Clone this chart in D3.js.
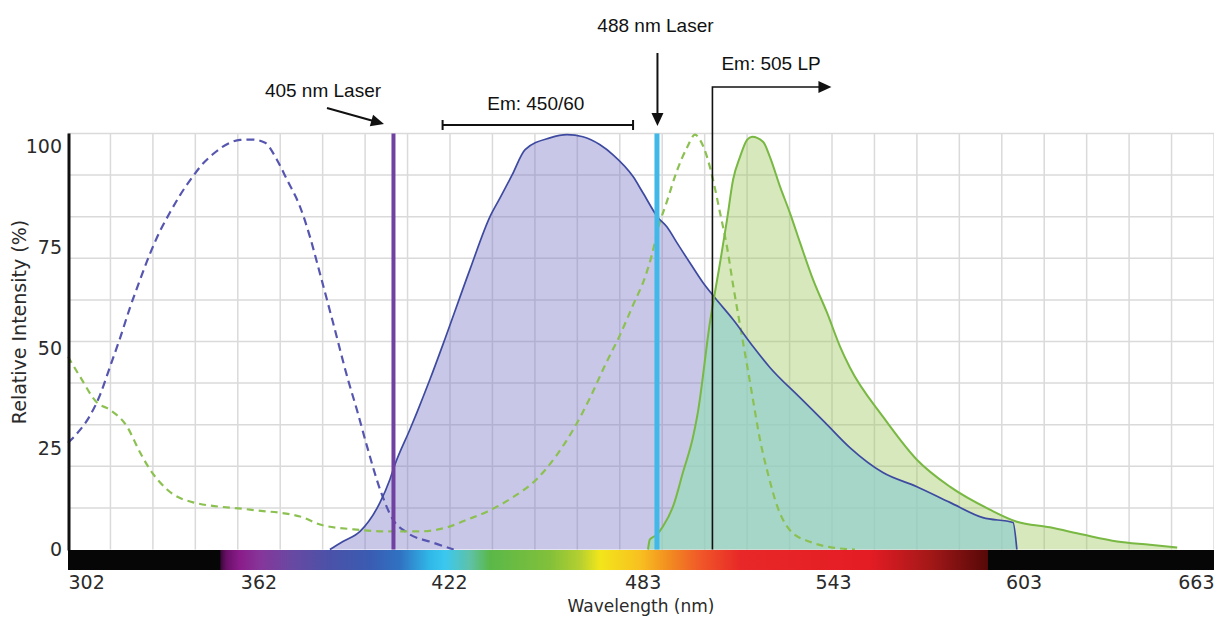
<!DOCTYPE html>
<html>
<head>
<meta charset="utf-8">
<script src="https://cdn.jsdelivr.net/npm/d3@7"></script>
<style>
  body { margin: 0; background: #fff; }
  svg { display: block; }
</style>
</head>
<body>
<svg id="chart" width="1214" height="617"></svg>
<script>
// ---- Spectra: [wavelength nm, relative intensity %] ----
const violetExcitation = [
  [302,26.5],[305.8,29.7],[308.9,33.2],[312.1,38.4],[315.2,45.3],[318.4,52.5],[321.5,60],
  [324.7,67],[327.8,73.4],[331,79.1],[334.2,83.8],[337.3,88],[341.4,92.7],[343.6,95],
  [347.7,98.2],[353,101],[356.2,101.7],[360,101.8],[364.1,101],[367.8,96.8],[371,91.8],
  [375.1,85.1],[378.2,77.7],[380.8,70.2],[385.4,56.6],[390.2,42.2],[393,34.7],[396.2,25.6],
  [400.3,14.9],[404.4,7.4],[408.8,4.2],[417,1.7],[423.5,0]
];
const violetEmission = [
  [384.5,0],[388.6,2],[394,4.5],[400.3,11.7],[403.4,17.4],[405,21.1],[409.7,29.8],[411.9,34],
  [416,42.2],[420.8,52.4],[428.6,69.5],[434.9,82.6],[438.1,87.3],[441.9,93],[446,99.3],
  [453.8,102.2],[459.2,103],[464.2,102.5],[469.6,100.5],[473.7,98],[480,92.6],[483.1,88.6],
  [487.9,82.4],[490.7,80.1],[493.8,76.2],[497.9,71.2],[502,66.3],[505.8,62.5],[511.5,57.1],
  [517.8,50.4],[523.1,45.2],[532.6,37.7],[540.5,31.5],[548.3,25.3],[558.7,19.1],[569.4,15.6],
  [579.8,11.7],[590.2,7.9],[599.7,6.7],[600.9,0]
];
const greenExcitation = [
  [302,47.9],[305.8,42.9],[311.1,36.5],[315.2,34.7],[320.6,30.5],[324.7,24.1],[327.8,19.9],
  [333.2,14.9],[341.4,11.7],[359.3,9.9],[375.1,8.2],[381.4,6.2],[392,5],[403.4,4.5],[412.9,4.5],
  [421.4,5.5],[427.7,7.4],[434,9.4],[442.2,13],[449.7,17.5],[456,23.5],[461.1,29.7],
  [466.4,37.6],[471.2,45.8],[475.9,53.3],[480,60.7],[483.8,67.7],[486,73.4],[487.9,79.8],
  [490.7,86.5],[493.8,94],[497,99.8],[499.5,103],[501.1,101.7],[503.3,97.5],[505.2,91.8],
  [507.4,83.6],[509.6,75.1],[511.5,65.7],[513.7,55.7],[515.9,45.8],[517.8,37.1],[520,27.2],
  [522.6,18.5],[525.3,11],[529.4,4.8],[535.7,1.9],[542,0.6],[549.9,0]
];
const greenEmission = [
  [484.7,0],[485.3,2.5],[487.5,3.7],[489.4,5.7],[492.6,10.7],[495.7,19.1],[498.9,28],[500.4,34],
  [504.2,56.3],[507.4,71.2],[509.6,81.9],[511.5,91.8],[513.7,97.5],[515.9,101.7],[517.5,102.5],
  [521,101.2],[523.1,97.5],[526.3,90.1],[529.4,83.6],[532.6,76.2],[536.7,67],[541.1,58.8],
  [545.2,50.4],[548.3,45.2],[558.7,33],[569.4,22.3],[579.8,15.6],[592.4,9.9],[600.9,6.9],
  [611.3,5.5],[621.7,3.7],[632.5,2],[642.8,1.2],[651.4,0.5]
];

// ---- Axes, lasers, filters ----
const xTickLabels = [302, 362, 422, 483, 543, 603, 663];
const yTickLabels = [0, 25, 50, 75, 100];
const laserLines = [405, 488];
const bandPass = { center: 450, width: 60 };
const longPass = 505;

// Visible spectrum strip: [wavelength nm, colour]
const spectrumStops = [
  [350,"#3a0838"],[352,"#6a1068"],[356,"#8a1c8a"],[362.5,"#86369a"],[372,"#6a48a2"],
  [384.5,"#4a52a8"],[397,"#3a5cb2"],[406.6,"#3072c2"],[416,"#30b8e8"],[420.8,"#3ac8f0"],
  [428.6,"#5ec2a8"],[434.9,"#5ab848"],[453.8,"#82c03a"],[463.3,"#b4d030"],[469.6,"#f2e61a"],
  [482.2,"#f8c020"],[490.7,"#f29020"],[501.1,"#f05828"],[513.7,"#e82828"],[554.6,"#e41c24"],
  [573.5,"#a41818"],[591.8,"#560808"]
];

// ---- Layout ----
const svg = d3.select("#chart");
const plotL = 68, plotR = 1214, plotT = 133.5, plotB = 549.5;
const Y_MAX = 103.3;

const x = d3.scaleLinear().domain([302, 663]).range([plotL, plotR]);
const y = d3.scaleLinear().domain([0, Y_MAX]).range([plotB, plotT]);
const defs = svg.append("defs");

// Grid
const grid = svg.append("g").attr("stroke", "#dadada").attr("stroke-width", 1.5);
d3.range(1, 28).map(i => 302 + i * 361 / 27).forEach(v => {
  grid.append("line").attr("x1", x(v)).attr("x2", x(v)).attr("y1", plotT).attr("y2", plotB);
});
d3.range(1, 11).map(i => i * Y_MAX / 10).forEach(v => {
  grid.append("line").attr("x1", plotL).attr("x2", plotR).attr("y1", y(v)).attr("y2", y(v));
});

const area = d3.area().x(d => x(d[0])).y0(y(0)).y1(d => y(d[1])).curve(d3.curveMonotoneX);
const line = d3.line().x(d => x(d[0])).y(d => y(d[1])).curve(d3.curveMonotoneX);

// Filled emission spectra
defs.append("clipPath").attr("id", "violet-clip")
  .append("path").attr("d", area(violetEmission));

svg.append("path").attr("d", area(violetEmission))
  .attr("fill", "rgb(120,115,195)").attr("fill-opacity", 0.4);
svg.append("path").attr("d", area(greenEmission))
  .attr("fill", "rgb(155,198,90)").attr("fill-opacity", 0.4);
svg.append("path").attr("d", area(greenEmission)).attr("clip-path", "url(#violet-clip)")
  .attr("fill", "rgb(150,230,226)").attr("fill-opacity", 0.5);

// Excitation spectra (dashed)
svg.append("path").attr("d", line(violetExcitation))
  .attr("fill", "none").attr("stroke", "#5656b0").attr("stroke-width", 2.2)
  .attr("stroke-dasharray", "8,5");
svg.append("path").attr("d", line(greenExcitation))
  .attr("fill", "none").attr("stroke", "#8cc152").attr("stroke-width", 2.2)
  .attr("stroke-dasharray", "7,5");

// Emission outlines
svg.append("path").attr("d", line(violetEmission))
  .attr("fill", "none").attr("stroke", "#3d4aa0").attr("stroke-width", 1.7);
svg.append("path").attr("d", line(greenEmission))
  .attr("fill", "none").attr("stroke", "#78b843").attr("stroke-width", 2);

// Laser lines
const laserColors = ["#6f42a1", "#40b8e8"];
const laserWidths = [4, 5];
laserLines.forEach((nm, i) => {
  svg.append("line").attr("x1", x(nm) - 1.5).attr("x2", x(nm) - 1.5).attr("y1", plotT).attr("y2", plotB)
    .attr("stroke", laserColors[i]).attr("stroke-width", laserWidths[i]);
});

// Left axis line
svg.append("line").attr("x1", plotL + 1).attr("x2", plotL + 1).attr("y1", plotT).attr("y2", plotB + 1)
  .attr("stroke", "#111").attr("stroke-width", 3);

// Spectrum strip along the wavelength axis
const stripTop = 550, stripH = 20;
svg.append("rect").attr("x", plotL).attr("y", stripTop).attr("width", plotR - plotL).attr("height", stripH)
  .attr("fill", "#060606");
const s0 = x(spectrumStops[0][0]), s1 = x(spectrumStops[spectrumStops.length - 1][0]);
const grad = defs.append("linearGradient").attr("id", "spectrum")
  .attr("gradientUnits", "userSpaceOnUse").attr("x1", s0).attr("x2", s1).attr("y1", 0).attr("y2", 0);
spectrumStops.forEach(([nm, c]) => {
  grad.append("stop").attr("offset", (x(nm) - s0) / (s1 - s0)).attr("stop-color", c);
});
svg.append("rect").attr("x", s0).attr("y", stripTop).attr("width", s1 - s0).attr("height", stripH)
  .attr("fill", "url(#spectrum)");

// Axes text
const tickFont = "'DejaVu Sans', Verdana, sans-serif";
const xAxis = svg.append("g").attr("transform", `translate(0,${stripTop + stripH})`)
  .call(d3.axisBottom(x).tickValues(xTickLabels).tickSize(0).tickPadding(6).tickFormat(d3.format("d")));
xAxis.select(".domain").remove();
xAxis.selectAll("text").attr("font-family", tickFont).attr("font-size", 19).attr("fill", "#2a2a2a");
xAxis.selectAll("text").filter(d => d === xTickLabels[0]).attr("text-anchor", "start");
xAxis.selectAll("text").filter(d => d === xTickLabels[xTickLabels.length - 1]).attr("text-anchor", "end");

const yAxis = svg.append("g").attr("transform", `translate(${plotL},0)`)
  .call(d3.axisLeft(y).tickValues(yTickLabels).tickSize(0).tickPadding(6));
yAxis.select(".domain").remove();
yAxis.selectAll("text").attr("font-family", tickFont).attr("font-size", 19).attr("fill", "#2a2a2a");

svg.append("text").attr("x", (plotL + plotR) / 2).attr("y", 612).attr("text-anchor", "middle")
  .attr("font-family", tickFont).attr("font-size", 17).attr("fill", "#2a2a2a").text("Wavelength (nm)");
svg.append("text").attr("transform", "translate(26,322) rotate(-90)").attr("text-anchor", "middle")
  .attr("font-family", tickFont).attr("font-size", 19).attr("fill", "#2a2a2a").text("Relative Intensity (%)");

// Annotations
const noteFont = "'Liberation Sans', Arial, sans-serif";
const ink = "#111";
function arrowHead(tipX, tipY, angle) {
  const len = 13, half = 6;
  const bx = tipX - len * Math.cos(angle), by = tipY - len * Math.sin(angle);
  const px = -Math.sin(angle) * half, py = Math.cos(angle) * half;
  svg.append("path")
    .attr("d", `M${tipX},${tipY}L${bx + px},${by + py}L${bx - px},${by - py}Z`)
    .attr("fill", ink);
}
function note(tx, ty, anchor, label) {
  svg.append("text").attr("x", tx).attr("y", ty).attr("text-anchor", anchor)
    .attr("font-family", noteFont).attr("font-size", 19).attr("fill", ink).text(label);
}

// 405 nm laser
const l405 = x(laserLines[0]);
note(l405 - 72, 97, "middle", "405 nm Laser");
{
  const x0 = l405 - 68, y0 = 108, x1 = l405 - 11, y1 = 124;
  const a = Math.atan2(y1 - y0, x1 - x0);
  svg.append("line").attr("x1", x0).attr("y1", y0).attr("x2", x1 - 10 * Math.cos(a)).attr("y2", y1 - 10 * Math.sin(a))
    .attr("stroke", ink).attr("stroke-width", 2);
  arrowHead(x1, y1, a);
}

// 488 nm laser
const l488 = x(laserLines[1]);
note(l488 - 3, 32, "middle", "488 nm Laser");
svg.append("line").attr("x1", l488 - 1).attr("x2", l488 - 1).attr("y1", 53).attr("y2", 115)
  .attr("stroke", ink).attr("stroke-width", 2);
arrowHead(l488 - 1, 126, Math.PI / 2);

// 450/60 band-pass bracket
const bpL = x(bandPass.center - bandPass.width / 2), bpR = x(bandPass.center + bandPass.width / 2);
note(x(bandPass.center) - 2, 110, "middle", "Em: 450/60");
svg.append("path")
  .attr("d", `M${bpL},125H${bpR}M${bpL},120V130M${bpR},120V130`)
  .attr("fill", "none").attr("stroke", ink).attr("stroke-width", 2);

// 505 long-pass
const lp = x(longPass);
note(lp + 9, 70, "start", "Em: 505 LP");
svg.append("path").attr("d", `M${lp},${plotB}V87H${lp + 108}`)
  .attr("fill", "none").attr("stroke", ink).attr("stroke-width", 1.6);
arrowHead(lp + 119, 87, 0);
</script>
</body>
</html>
